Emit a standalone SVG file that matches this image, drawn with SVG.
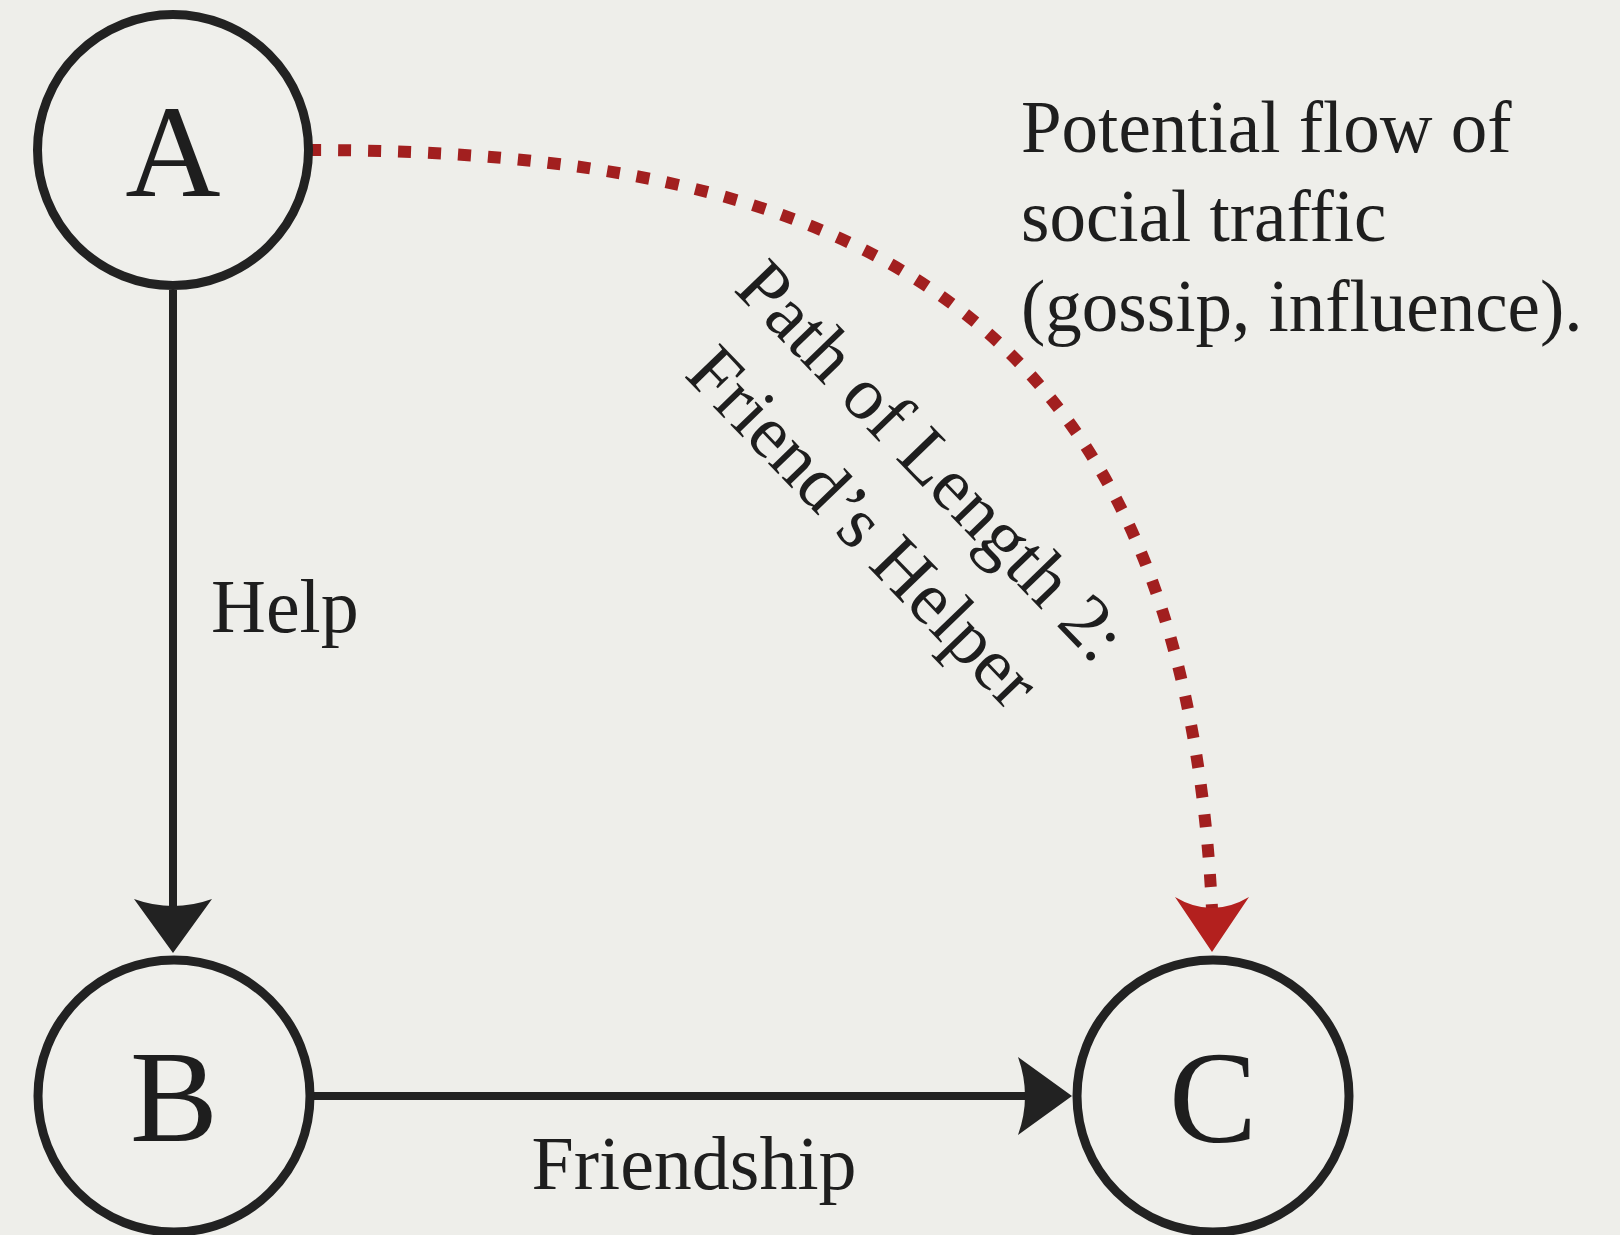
<svg xmlns="http://www.w3.org/2000/svg" width="1620" height="1235" viewBox="0 0 1620 1235">
  <defs>
    <style>
      .bg { fill: #eeeeea; }
      .node circle { fill: #efefeb; stroke: #222222; stroke-width: 9; }
      .node text { font-family: "Liberation Serif", "DejaVu Serif", serif; font-size: 132px; fill: #1e1e1e; text-anchor: middle; }
      .edge { fill: none; stroke: #222222; stroke-width: 8; }
      .flow { fill: none; stroke: #a21f1f; stroke-width: 12; stroke-dasharray: 13 17; }
      .lbl { font-family: "Liberation Serif", "DejaVu Serif", serif; fill: #1e1e1e; }
      .edge-lbl { font-size: 76px; }
      .path-lbl { font-size: 75px; text-anchor: middle; }
      .note { font-size: 73px; }
    </style>
    <marker id="arrow-black" markerUnits="userSpaceOnUse" viewBox="0 0 54 78" markerWidth="54" markerHeight="78" refX="8" refY="39" orient="auto">
      <path d="M0,0 L54,39 L0,78 Q14,39 0,0 Z" fill="#222222"/>
    </marker>
    <marker id="arrow-red" markerUnits="userSpaceOnUse" viewBox="0 0 55 74" markerWidth="55" markerHeight="74" refX="12" refY="37" orient="90">
      <path d="M0,0 L55,37 L0,74 Q22,37 0,0 Z" fill="#b3201e"/>
    </marker>
  </defs>

  <rect class="bg" x="0" y="0" width="1620" height="1235"/>

  <g id="connectors">
    <path id="edge-A-B" class="edge" d="M173,290 L173,907" marker-end="url(#arrow-black)"/>
    <path id="edge-B-C" class="edge" d="M313,1096 L1026,1096" marker-end="url(#arrow-black)"/>
    <path id="edge-A-C" class="flow" d="M308,150 C840,150 1182,300 1212,909" marker-end="url(#arrow-red)"/>
  </g>

  <g id="labels">
    <text class="lbl edge-lbl" x="211" y="632">Help</text>
    <text class="lbl edge-lbl" x="694" y="1189" text-anchor="middle">Friendship</text>
    <g transform="translate(914,478) rotate(46)">
      <text class="lbl path-lbl" x="0" y="0">Path of Length 2:</text>
      <text class="lbl path-lbl" x="0" y="95">Friend’s Helper</text>
    </g>
    <text class="lbl note" x="1021" y="152">Potential flow of</text>
    <text class="lbl note" x="1021" y="241">social traffic</text>
    <text class="lbl note" x="1021" y="331">(gossip, influence).</text>
  </g>

  <g id="node-A" class="node">
    <circle cx="173" cy="150" r="135.5"/>
    <text x="173" y="196">A</text>
  </g>
  <g id="node-B" class="node">
    <circle cx="174" cy="1096" r="136"/>
    <text x="174" y="1141">B</text>
  </g>
  <g id="node-C" class="node">
    <circle cx="1213" cy="1096" r="136"/>
    <text x="1213" y="1142">C</text>
  </g>
</svg>
